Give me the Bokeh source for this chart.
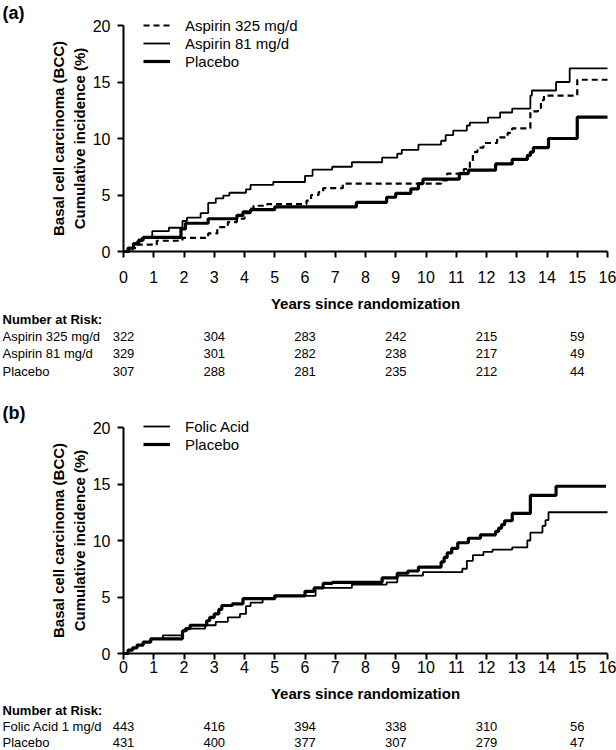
from bokeh.plotting import figure
from bokeh.models import Range1d, Legend, LegendItem, FixedTicker, LinearAxis, Grid
from bokeh.layouts import column
from bokeh.embed import file_html
from bokeh.resources import INLINE
from bokeh.core.properties import value

FONT = "Liberation Sans"

# ---------------- data: panel (a) ----------------
a325_t = [0, 0.3, 0.45, 1.1, 1.95, 2.8, 3.1, 3.45, 3.75, 4.0, 4.2, 4.3, 4.75, 6.05, 6.2, 6.45, 6.6, 7.25,
          10.5, 10.7, 11.25, 11.45, 11.55, 11.7, 11.9, 12.35, 12.7, 12.85, 13.45, 13.7, 13.8, 13.9, 15.0, 16.0]
a325_v = [0, 0.3, 0.6, 0.95, 1.2, 1.6, 2.15, 2.6, 2.9, 3.4, 3.8, 4.05, 4.2, 4.5, 5.0, 5.25, 5.6, 6.0,
          6.3, 6.9, 7.3, 7.9, 8.8, 9.2, 9.6, 10.1, 10.5, 10.9, 12.4, 12.7, 13.4, 13.8, 15.2, 15.2]

a81_t = [0, 0.2, 0.33, 0.45, 0.6, 0.95, 1.5, 1.95, 2.1, 2.55, 2.8, 3.05, 3.3, 3.5, 4.05, 4.2, 4.95, 6.0,
         6.25, 6.9, 7.55, 8.55, 9.05, 9.2, 9.75, 10.5, 10.65, 10.9, 11.35, 11.45, 12.05, 12.45, 12.85,
         13.45, 13.5, 14.3, 14.75, 16.0]
a81_v = [0, 0.3, 0.6, 0.9, 1.2, 1.8, 2.1, 2.7, 3.0, 3.4, 4.3, 4.7, 4.95, 5.2, 5.5, 5.9, 6.15, 6.7,
         7.25, 7.5, 7.9, 8.3, 8.65, 9.0, 9.45, 9.8, 10.3, 10.7, 11.15, 11.4, 11.85, 12.3, 12.65,
         13.8, 14.25, 15.0, 16.2, 16.2]

apl_t = [0, 0.15, 0.33, 0.5, 0.65, 1.9, 2.05, 2.8, 3.75, 3.95, 4.2, 5.0, 7.7, 8.7, 9.0, 9.5, 9.75, 9.9,
         11.1, 11.4, 12.3, 12.85, 13.35, 13.45, 13.55, 14.05, 15.0, 16.0]
apl_v = [0, 0.3, 0.7, 1.0, 1.25, 2.0, 2.5, 2.9, 3.2, 3.5, 3.7, 3.95, 4.35, 4.8, 5.15, 5.55, 6.0, 6.4,
         6.9, 7.2, 7.75, 8.15, 8.5, 8.8, 9.2, 10.0, 11.9, 11.9]

# ---------------- data: panel (b) ----------------
bfa_t = [0, 0.15, 0.3, 0.45, 0.65, 0.9, 1.3, 1.95, 2.1, 2.7, 3.05, 3.45, 3.85, 4.05, 4.2, 4.6, 5.0,
         6.35, 7.55, 8.7, 9.05, 9.9, 11.2, 11.35, 11.55, 11.9, 12.2, 12.85, 13.35, 13.45, 13.85,
         13.95, 14.05, 16.0]
bfa_v = [0, 0.3, 0.5, 0.75, 1.0, 1.3, 1.6, 2.0, 2.2, 2.5, 2.8, 3.2, 3.5, 4.2, 4.5, 4.85, 5.1,
         5.8, 6.1, 6.3, 6.9, 7.2, 7.5, 8.2, 8.7, 9.0, 9.2, 9.4, 10.0, 10.7, 11.3,
         11.8, 12.5, 12.5]

bpl_t = [0, 0.15, 0.3, 0.45, 0.65, 0.9, 1.95, 2.05, 2.2, 2.75, 2.85, 3.0, 3.15, 3.25, 3.6, 3.95, 5.0,
         6.0, 6.3, 6.6, 6.9, 8.55, 9.05, 9.4, 9.75, 10.5, 10.6, 10.7, 10.85, 11.05, 11.4, 11.8,
         12.3, 12.4, 12.5, 12.6, 12.85, 13.45, 14.3, 15.95]
bpl_v = [0, 0.3, 0.5, 0.75, 1.0, 1.3, 2.0, 2.2, 2.5, 2.9, 3.2, 3.5, 3.9, 4.25, 4.4, 4.85, 5.1,
         5.5, 5.8, 6.2, 6.3, 6.7, 7.1, 7.3, 7.65, 8.1, 8.5, 8.9, 9.3, 9.8, 10.2, 10.5,
         10.8, 11.1, 11.4, 11.75, 12.4, 14.0, 14.8, 14.8]

# ---------------- ticks and risk tables ----------------
year_ticks = list(range(0, 17))
inc_ticks = [0, 5, 10, 15, 20]
risk_years = [0, 3, 6, 9, 12, 15]

risk_a_labels = ["Aspirin 325 mg/d", "Aspirin 81 mg/d", "Placebo"]
risk_a_325 = [322, 304, 283, 242, 215, 59]
risk_a_81 = [329, 301, 282, 238, 217, 49]
risk_a_pl = [307, 288, 281, 235, 212, 44]

risk_b_labels = ["Folic Acid 1 mg/d", "Placebo"]
risk_b_fa = [443, 416, 394, 338, 310, 56]
risk_b_pl = [431, 400, 377, 307, 279, 47]

# ---------------- layout (pixels) ----------------
W = 616
AX_X0 = 123            # pixel x of year 0
PX_X = 484 / 16.0      # pixels per year
PX_Y = 226 / 20.0      # pixels per percentage point
TEXT_X = 2             # left edge of row labels / panel tags


def panel(top, height, y0, tag, tag_py, legend_items, legend_top,
          tick_standoff, table_title, row_labels, rows, table_py):
    def dx(px):
        return (px - AX_X0) / PX_X

    def dy(py):
        return (y0 - (py - top)) / PX_Y

    p = figure(width=W, height=height,
               x_range=Range1d(dx(0), dx(W)),
               y_range=Range1d(dy(top + height), dy(top)),
               x_axis_location=None, y_axis_location=None,
               output_backend="svg", toolbar_location=None, min_border=0)
    p.center = [c for c in p.center if not isinstance(c, Grid)]
    p.outline_line_color = None
    p.background_fill_color = "white"
    p.border_fill_color = "white"

    xa = LinearAxis(fixed_location=0, bounds=(0, 16), ticker=FixedTicker(ticks=year_ticks),
                    axis_label="Years since randomization")
    ya = LinearAxis(fixed_location=0, bounds=(0, 20), ticker=FixedTicker(ticks=inc_ticks),
                    axis_label="Basal cell carcinoma (BCC)\nCumulative incidence (%)")
    for ax in (xa, ya):
        ax.axis_line_width = 2
        ax.axis_line_color = "black"
        ax.major_tick_line_width = 2
        ax.major_tick_line_color = "black"
        ax.major_tick_out = 6
        ax.major_tick_in = 0
        ax.minor_tick_line_color = None
        ax.major_label_text_font = FONT
        ax.major_label_text_font_size = "16px"
        ax.major_label_text_color = "black"
        ax.axis_label_text_font = FONT
        ax.axis_label_text_font_style = "bold"
        ax.axis_label_text_font_size = "15px"
        ax.axis_label_text_color = "black"
    xa.major_label_standoff = tick_standoff
    xa.axis_label_standoff = 9
    ya.major_label_standoff = 7
    ya.axis_label_standoff = 2
    p.add_layout(xa, "below")
    p.add_layout(ya, "left")

    # panel tag
    p.text(x=[dx(TEXT_X)], y=[dy(tag_py)], text=[tag], text_font=value(FONT),
           text_font_style="bold", text_font_size="18px", text_baseline="middle",
           text_align="left", text_color="black")

    # curves
    rends = []
    for label, t, v, lw, dash in legend_items:
        r = p.step(t, v, mode="after", line_color="black", line_width=lw, line_dash=dash)
        rends.append((label, r))

    n = len(rends)
    lg = Legend(items=[LegendItem(label=l, renderers=[r]) for l, r in rends],
                location=(143, height - (legend_top - top) - 18 * n),
                glyph_width=27, glyph_height=18, label_height=18, label_standoff=15,
                spacing=0, padding=0, margin=0, border_line_color=None,
                background_fill_alpha=0, label_text_font=FONT, label_text_font_size="15px",
                label_text_color="black")
    p.add_layout(lg)

    # number-at-risk table
    p.text(x=[dx(TEXT_X)], y=[dy(table_py[0])], text=[table_title], text_font=value(FONT),
           text_font_style="bold", text_font_size="13px", text_baseline="middle",
           text_align="left", text_color="black")
    p.text(x=[dx(TEXT_X)] * len(row_labels), y=[dy(py) for py in table_py[1:]], text=row_labels,
           text_font=value(FONT), text_font_size="13px", text_baseline="middle",
           text_align="left", text_color="black")
    for row, py in zip(rows, table_py[1:]):
        p.text(x=risk_years, y=[dy(py)] * len(risk_years), text=[str(v) for v in row],
               text_font=value(FONT), text_font_size="13px", text_baseline="middle",
               text_align="center", text_color="black")
    return p


pa = panel(top=0, height=385, y0=251, tag="(a)", tag_py=12,
           legend_items=[("Aspirin 325 mg/d", a325_t, a325_v, 2.2, "6 4"),
                         ("Aspirin 81 mg/d", a81_t, a81_v, 1.8, "solid"),
                         ("Placebo", apl_t, apl_v, 3.2, "solid")],
           legend_top=16, tick_standoff=13, table_title="Number at Risk:",
           row_labels=risk_a_labels, rows=[risk_a_325, risk_a_81, risk_a_pl],
           table_py=[319, 336, 353, 371])

pb = panel(top=385, height=365, y0=653 - 385, tag="(b)", tag_py=412,
           legend_items=[("Folic Acid", bfa_t, bfa_v, 1.8, "solid"),
                         ("Placebo", bpl_t, bpl_v, 3.2, "solid")],
           legend_top=417, tick_standoff=1, table_title="Number at Risk:",
           row_labels=risk_b_labels, rows=[risk_b_fa, risk_b_pl],
           table_py=[710, 726, 742])

layout = column(pa, pb, spacing=0)
open("out.html", "w").write(file_html(layout, INLINE))
